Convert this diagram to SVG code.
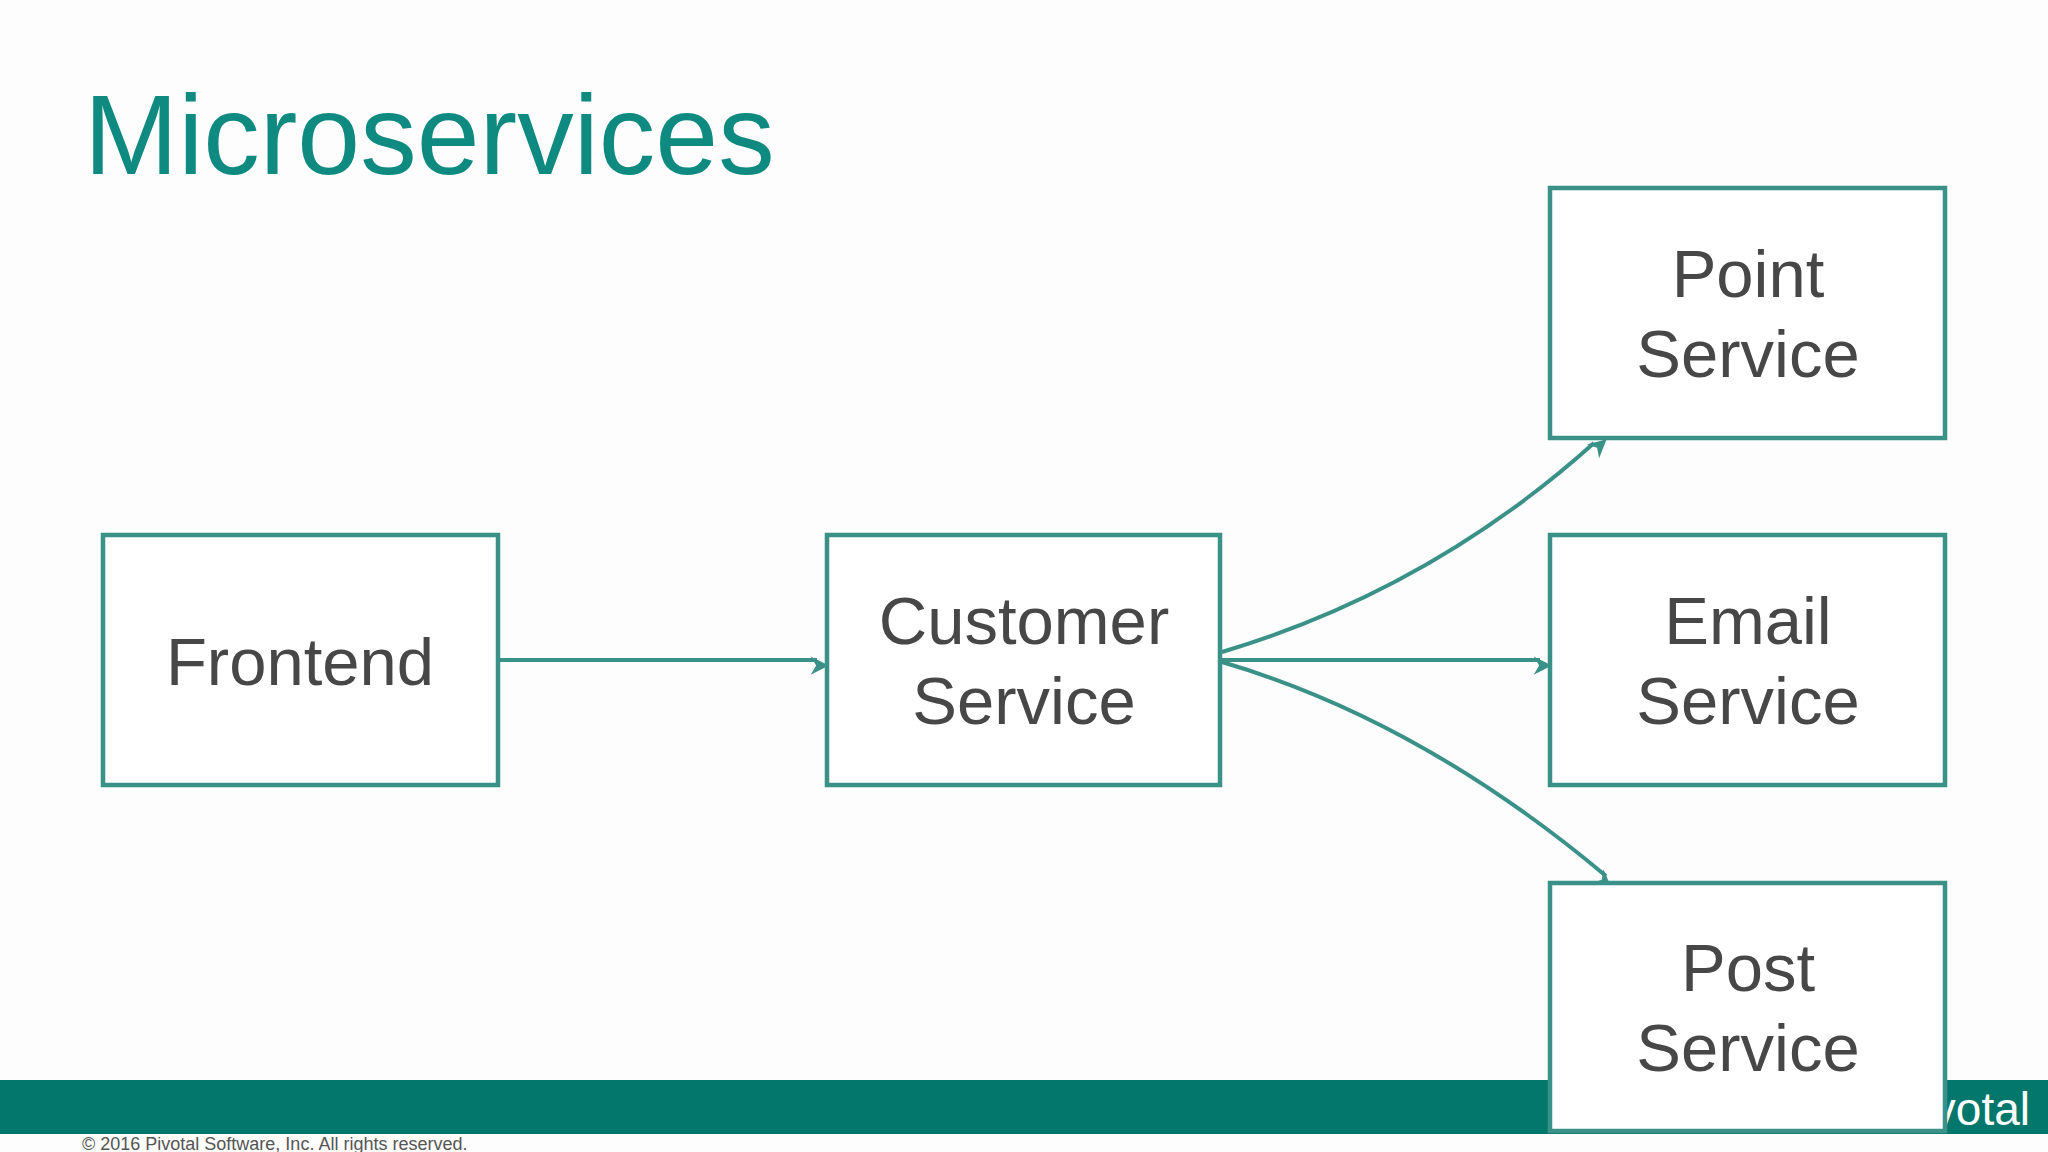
<svg xmlns="http://www.w3.org/2000/svg" width="2048" height="1152" viewBox="0 0 2048 1152">
<style>
.box{fill:#fff;stroke:#3a9188;stroke-width:4.5}
.t{font-family:"Liberation Sans",Arial,sans-serif;font-size:67px;fill:#474747;text-anchor:middle}
.c{fill:none;stroke:#3a9188;stroke-width:4}
</style>
<defs><marker id="a" viewBox="0 0 10 10" refX="9" refY="5" markerWidth="7" markerHeight="7" markerUnits="userSpaceOnUse" orient="auto" style="overflow:visible"><path d="M0,0 L10,5 L0,10 L3,5 Z" fill="#3a9188" transform="scale(2.6) translate(-6,-5) translate(6,5)"/></marker></defs>
<rect width="2048" height="1152" fill="#fdfdfd"/>
<rect x="0" y="1080" width="2048" height="54" fill="#04776d"/>
<text x="2030" y="1125" font-family="Liberation Sans,Arial,sans-serif" font-size="46" fill="#fff" text-anchor="end">Pivotal</text>
<text x="82" y="1150" font-family="Liberation Sans,Arial,sans-serif" font-size="18" fill="#555">© 2016 Pivotal Software, Inc.  All rights reserved.</text>
<text x="84" y="174" font-family="Liberation Sans,Arial,sans-serif" font-size="113" fill="#0f8a80">Microservices</text>
<g id="connectors">
<path class="c" d="M498,660 L817,660" marker-end="url(#a)"/>
<path class="c" d="M1222,660 L1540,660" marker-end="url(#a)"/>
<path class="c" d="M1222,652 Q1430,590 1594,443" marker-end="url(#a)"/>
<path class="c" d="M1222,662 Q1420,720 1606,876" marker-end="url(#a)"/>
</g>
<g id="frontend"><rect class="box" x="103" y="535" width="395" height="250"/><text class="t" x="300" y="685">Frontend</text></g>
<g id="customer"><rect class="box" x="827" y="535" width="393" height="250"/><text class="t" x="1024" y="644">Customer</text><text class="t" x="1024" y="724">Service</text></g>
<g id="point"><rect class="box" x="1550" y="188" width="395" height="250"/><text class="t" x="1748" y="297">Point</text><text class="t" x="1748" y="377">Service</text></g>
<g id="email"><rect class="box" x="1550" y="535" width="395" height="250"/><text class="t" x="1748" y="644">Email</text><text class="t" x="1748" y="724">Service</text></g>
<g id="post"><rect class="box" x="1550" y="883" width="395" height="248"/><text class="t" x="1748" y="991">Post</text><text class="t" x="1748" y="1071">Service</text></g>
</svg>
